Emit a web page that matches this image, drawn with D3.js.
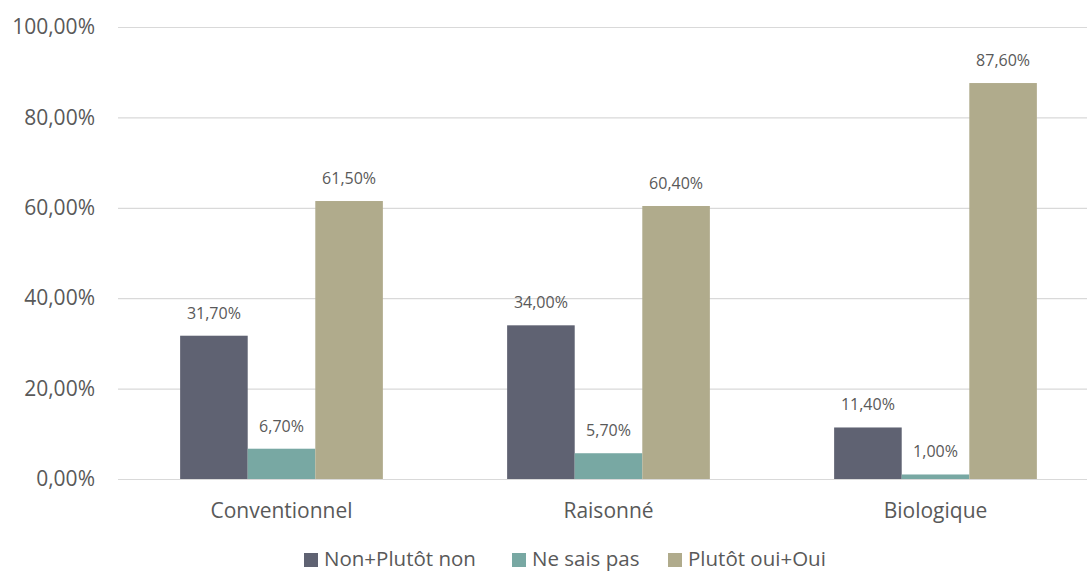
<!DOCTYPE html>
<html lang="fr">
<head>
  <meta charset="UTF-8">
  <script src="https://d3js.org/d3.v7.min.js"></script>
  <title>Bar chart</title>
  <style>
    body { margin: 0; background: #fff; }
    text { font-family: "Open Sans", sans-serif; fill: #595959; }
  </style>
</head>
<body>
  <svg width="1087" height="572"></svg>
  <script>
    const categories = ['Conventionnel', 'Raisonné', 'Biologique']
    const series = ['Non+Plutôt non', 'Ne sais pas', 'Plutôt oui+Oui']
    const nonValues = [31.7, 34.0, 11.4]
    const nspValues = [6.7, 5.7, 1.0]
    const ouiValues = [61.5, 60.4, 87.6]
    const yTicks = [0, 20, 40, 60, 80, 100]
    const colors = ['#5f6272', '#78a8a3', '#b0ab8c']

    const valuesBySeries = [nonValues, nspValues, ouiValues]

    const svg = d3.select('svg')
    const plotLeft = 118, plotRight = 1099, plotTop = 27, plotBottom = 479

    const fmt = v => v.toFixed(2).replace('.', ',') + '%'

    const y = d3.scaleLinear().domain([0, 100]).range([plotBottom, plotTop])
    const x0 = d3.scaleBand().domain(categories).range([plotLeft, plotRight])
    const gap = x0.bandwidth() * 0.19
    const x1 = d3.scaleBand().domain(series).range([gap, x0.bandwidth() - gap])

    // grid + tick labels
    const yAxis = d3.axisLeft(y)
      .tickValues(yTicks)
      .tickSize(-(plotRight - plotLeft))
      .tickFormat(fmt)
    const gy = svg.append('g')
      .attr('transform', `translate(${plotLeft},0)`)
      .call(yAxis)
    gy.select('.domain').remove()
    gy.selectAll('.tick line').attr('stroke', '#d9d9d9').attr('stroke-width', 1.2)
    gy.selectAll('.tick text')
      .attr('x', -23)
      .style('font-size', '21px')
      .style('font-family', '"Open Sans", sans-serif')
      .attr('fill', '#595959')

    // bars
    const groups = svg.append('g').selectAll('g')
      .data(categories)
      .join('g')
      .attr('transform', d => `translate(${x0(d)},0)`)

    groups.selectAll('rect')
      .data((d, i) => series.map((s, j) => ({ s, j, v: valuesBySeries[j][i] })))
      .join('rect')
      .attr('x', d => x1(d.s))
      .attr('width', x1.bandwidth())
      .attr('y', d => y(d.v))
      .attr('height', d => y(0) - y(d.v))
      .attr('fill', d => colors[d.j])

    groups.selectAll('text.val')
      .data((d, i) => series.map((s, j) => ({ s, j, v: valuesBySeries[j][i] })))
      .join('text')
      .attr('class', 'val')
      .attr('x', d => x1(d.s) + x1.bandwidth() / 2)
      .attr('y', d => y(d.v) - 17)
      .attr('text-anchor', 'middle')
      .style('font-size', '16px')
      .text(d => fmt(d.v))

    // category labels
    const xAxis = d3.axisBottom(x0).tickSize(0).tickPadding(0)
    const gx = svg.append('g')
      .attr('transform', `translate(0,${plotBottom})`)
      .call(xAxis)
    gx.select('.domain').attr('stroke', '#d9d9d9').attr('stroke-width', 1.2)
    gx.selectAll('.tick text')
      .attr('dy', null)
      .attr('y', 39)
      .style('font-size', '21px')
      .style('font-family', '"Open Sans", sans-serif')
      .attr('fill', '#595959')

    // legend
    const legendX = [304, 512, 668]
    const legend = svg.append('g').selectAll('g')
      .data(series)
      .join('g')
      .attr('transform', (d, i) => `translate(${legendX[i]},553)`)
    legend.append('rect')
      .attr('width', 14).attr('height', 14)
      .attr('fill', (d, i) => colors[i])
    legend.append('text')
      .attr('x', 20).attr('y', 13)
      .style('font-size', '20.5px')
      .text(d => d)
  </script>
</body>
</html>
